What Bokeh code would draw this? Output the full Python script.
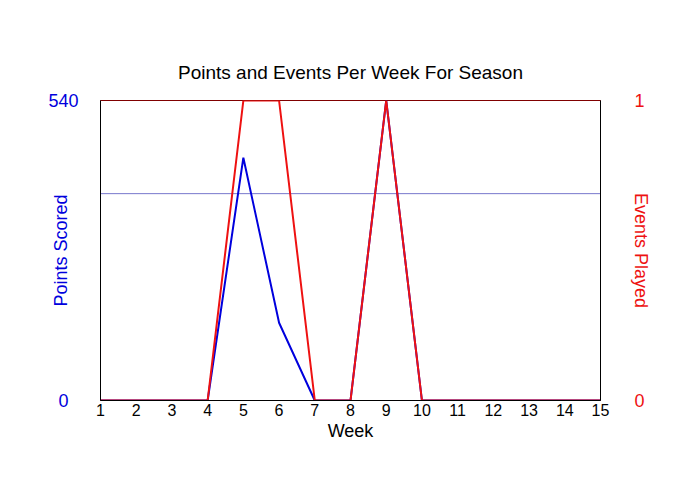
from bokeh.plotting import figure
from bokeh.models import LinearAxis, Range1d, FixedTicker, Span
from bokeh.embed import file_html
from bokeh.resources import INLINE

weeks = list(range(1, 16))
points = [0, 0, 0, 0, 437, 140, 0, 0, 540, 0, 0, 0, 0, 0, 0]
events = [0, 0, 0, 0, 1, 1, 0, 0, 1, 0, 0, 0, 0, 0, 0]
points_ticks = [0, 540]
events_ticks = [0, 1]
avg_points = sum(points) / sum(events)

FONT = "Liberation Sans"
BLUE = "#0000dd"
RED = "#ee1111"

p = figure(width=700, height=500, output_backend="svg", toolbar_location=None,
           x_range=Range1d(weeks[0], weeks[-1]),
           y_range=Range1d(points_ticks[0], points_ticks[-1]),
           min_border_left=100, min_border_right=100,
           min_border_top=100, min_border_bottom=100)
p.extra_y_ranges = {"events": Range1d(events_ticks[0], events_ticks[-1])}

p.title.text = "Points and Events Per Week For Season"
p.title.align = "center"
p.title.text_font = FONT
p.title.text_font_size = "19px"
p.title.text_font_style = "normal"
p.title.text_color = "black"
p.title.standoff = 35

p.grid.visible = False
p.outline_line_color = "#800000"
p.outline_line_width = 1
p.background_fill_color = "white"
p.border_fill_color = "white"

p.add_layout(Span(location=avg_points, dimension="width", line_color="#7777cc",
                  line_width=1, level="underlay"))

p.line(weeks, points, line_color=BLUE, line_width=2)
p.line(weeks, events, y_range_name="events", line_color=RED, line_width=2)

# x axis
xa = p.xaxis[0]
xa.ticker = FixedTicker(ticks=weeks)
xa.axis_label = "Week"
xa.axis_label_text_font = FONT
xa.axis_label_text_font_size = "18px"
xa.axis_label_text_font_style = "normal"
xa.axis_label_text_color = "black"
xa.axis_label_standoff = 2
xa.major_label_text_font = FONT
xa.major_label_text_font_size = "16px"
xa.major_label_text_color = "black"
xa.major_label_standoff = 3
xa.major_tick_out = 0
xa.major_tick_in = 0
xa.minor_tick_out = 0
xa.minor_tick_in = 0
xa.axis_line_color = "black"

# left axis (labels centred: pad the short one with figure spaces)
width = max(len(str(t)) for t in points_ticks)
overrides = {}
for t in points_ticks:
    s = str(t)
    pad = width - len(s)
    overrides[t] = "\u2007" * (pad // 2) + s + "\u2007" * (pad - pad // 2)

ya = p.yaxis[0]
ya.ticker = FixedTicker(ticks=points_ticks)
ya.major_label_overrides = overrides
ya.axis_label = "Points Scored"
ya.axis_label_text_font = FONT
ya.axis_label_text_font_size = "18px"
ya.axis_label_text_font_style = "normal"
ya.axis_label_text_color = BLUE
ya.axis_label_standoff = -26
ya.major_label_text_font = FONT
ya.major_label_text_font_size = "18px"
ya.major_label_text_color = BLUE
ya.major_label_standoff = 22
ya.major_tick_out = 0
ya.major_tick_in = 0
ya.minor_tick_out = 0
ya.minor_tick_in = 0
ya.axis_line_color = "black"

# right axis
ra = LinearAxis(y_range_name="events", ticker=FixedTicker(ticks=events_ticks))
ra.axis_label = "Events Played"
ra.axis_label_text_font = FONT
ra.axis_label_text_font_size = "18px"
ra.axis_label_text_font_style = "normal"
ra.axis_label_text_color = RED
ra.axis_label_standoff = -17
ra.major_label_text_font = FONT
ra.major_label_text_font_size = "18px"
ra.major_label_text_color = RED
ra.major_label_standoff = 34
ra.major_tick_out = 0
ra.major_tick_in = 0
ra.minor_tick_out = 0
ra.minor_tick_in = 0
ra.axis_line_color = "black"
p.add_layout(ra, "right")

open("out.html", "w").write(file_html(p, INLINE))
